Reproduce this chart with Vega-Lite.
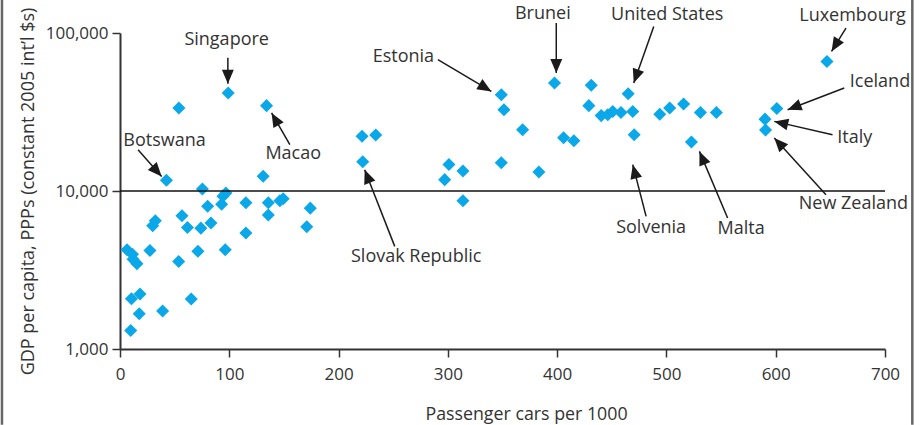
{
  "$schema": "https://vega.github.io/schema/vega-lite/v6.json",
  "width": 765,
  "height": 316,
  "autosize": {"type": "none"},
  "padding": {"left": 120, "top": 33, "right": 38, "bottom": 76},
  "background": "white",
  "config": {
    "view": {"stroke": null},
    "font": "Open Sans",
    "axis": {
      "grid": false,
      "domainColor": "#333333",
      "domainWidth": 2,
      "tickColor": "#333333",
      "tickWidth": 1.5,
      "tickSize": 8,
      "labelFont": "Open Sans",
      "labelFontSize": 17,
      "labelColor": "#333333",
      "titleFont": "Open Sans",
      "titleFontSize": 18,
      "titleFontWeight": "normal",
      "titleColor": "#333333"
    }
  },
  "datasets": {
    "points": [
      {"cars": 6.4, "gdp": 4250}, {"cars": 11.4, "gdp": 3980}, {"cars": 11.9, "gdp": 3700}, {"cars": 15.5, "gdp": 3470},
      {"cars": 27.4, "gdp": 4200}, {"cars": 10.5, "gdp": 2080}, {"cars": 18.3, "gdp": 2230}, {"cars": 17.6, "gdp": 1670},
      {"cars": 39.0, "gdp": 1740}, {"cars": 9.8, "gdp": 1310}, {"cars": 65.2, "gdp": 2070}, {"cars": 53.7, "gdp": 3580},
      {"cars": 71.3, "gdp": 4150}, {"cars": 96.3, "gdp": 4250}, {"cars": 29.9, "gdp": 6030}, {"cars": 32.3, "gdp": 6490},
      {"cars": 56.7, "gdp": 6980}, {"cars": 61.7, "gdp": 5880}, {"cars": 74.0, "gdp": 5820}, {"cars": 80.2, "gdp": 8010},
      {"cars": 83.2, "gdp": 6270}, {"cars": 93.0, "gdp": 8250}, {"cars": 115.2, "gdp": 8430}, {"cars": 115.2, "gdp": 5420},
      {"cars": 135.7, "gdp": 7050}, {"cars": 135.7, "gdp": 8430}, {"cars": 146.3, "gdp": 8680}, {"cars": 149.3, "gdp": 8940},
      {"cars": 174.1, "gdp": 7790}, {"cars": 170.9, "gdp": 5940}, {"cars": 75.4, "gdp": 10300}, {"cars": 94.2, "gdp": 9270},
      {"cars": 96.9, "gdp": 9710}, {"cars": 42.5, "gdp": 11700}, {"cars": 131.0, "gdp": 12400}, {"cars": 53.9, "gdp": 33500},
      {"cars": 99.0, "gdp": 41700}, {"cars": 134.1, "gdp": 34700}, {"cars": 221.5, "gdp": 22200}, {"cars": 234.0, "gdp": 22600},
      {"cars": 222.1, "gdp": 15300}, {"cars": 301.0, "gdp": 14700}, {"cars": 313.8, "gdp": 13400}, {"cars": 297.1, "gdp": 11800},
      {"cars": 313.8, "gdp": 8680}, {"cars": 348.9, "gdp": 15100}, {"cars": 348.9, "gdp": 40700}, {"cars": 351.3, "gdp": 32700},
      {"cars": 368.4, "gdp": 24400}, {"cars": 383.3, "gdp": 13200}, {"cars": 397.6, "gdp": 48300}, {"cars": 405.9, "gdp": 21700},
      {"cars": 415.3, "gdp": 20800}, {"cars": 431.2, "gdp": 46700}, {"cars": 429.0, "gdp": 34700}, {"cars": 440.3, "gdp": 30000},
      {"cars": 446.3, "gdp": 30400}, {"cars": 450.9, "gdp": 31900}, {"cars": 458.4, "gdp": 31400}, {"cars": 469.2, "gdp": 31900},
      {"cars": 465.0, "gdp": 41300}, {"cars": 470.5, "gdp": 22700}, {"cars": 493.9, "gdp": 30600}, {"cars": 503.0, "gdp": 33500},
      {"cars": 515.7, "gdp": 35500}, {"cars": 531.1, "gdp": 31400}, {"cars": 545.7, "gdp": 31400}, {"cars": 522.9, "gdp": 20400},
      {"cars": 601.0, "gdp": 33300}, {"cars": 590.2, "gdp": 28500}, {"cars": 590.7, "gdp": 24300}, {"cars": 646.9, "gdp": 66100}
    ],
    "notes": [
      {"label": "Singapore", "tx": 97.6, "ty": 89780, "x0": 98.7, "y0": 69780, "x1": 98.7, "y1": 47750, "ang": 180},
      {"label": "Botswana", "tx": 40.7, "ty": 20810, "x0": 16.5, "y0": 18250, "x1": 38.1, "y1": 12370, "ang": 138},
      {"label": "Macao", "tx": 158.5, "ty": 17220, "x0": 155.4, "y0": 19630, "x1": 138.7, "y1": 31170, "ang": 330},
      {"label": "Estonia", "tx": 259.3, "ty": 70480, "x0": 290.9, "y0": 67780, "x1": 339.8, "y1": 42700, "ang": 121},
      {"label": "Brunei", "tx": 386.9, "ty": 132500, "x0": 399.2, "y0": 115700, "x1": 399.2, "y1": 55830, "ang": 180},
      {"label": "United States", "tx": 500.7, "ty": 130000, "x0": 488.4, "y0": 110100, "x1": 470.1, "y1": 48260, "ang": 199.5},
      {"label": "Luxembourg", "tx": 670.3, "ty": 127400, "x0": 664.3, "y0": 107500, "x1": 651.1, "y1": 76470, "ang": 211.6},
      {"label": "Iceland", "tx": 695.4, "ty": 48680, "x0": 662.7, "y0": 44860, "x1": 610.9, "y1": 32700, "ang": 249},
      {"label": "Italy", "tx": 672.3, "ty": 21650, "x0": 652.0, "y0": 22720, "x1": 598.7, "y1": 27580, "ang": 283},
      {"label": "New Zealand", "tx": 671.1, "ty": 8310, "x0": 646.0, "y0": 9475, "x1": 598.7, "y1": 21650, "ang": 317.6},
      {"label": "Slovak Republic", "tx": 271.0, "ty": 3822, "x0": 251.4, "y0": 4461, "x1": 223.9, "y1": 13640, "ang": 338.6},
      {"label": "Solvenia", "tx": 486.0, "ty": 5832, "x0": 481.4, "y0": 6906, "x1": 469.2, "y1": 14680, "ang": 345.5},
      {"label": "Malta", "tx": 568.3, "ty": 5747, "x0": 556.0, "y0": 6747, "x1": 530.2, "y1": 17810, "ang": 337}
    ]
  },
  "layer": [
    {
      "data": {"name": "points"},
      "mark": {"type": "point", "shape": "diamond", "filled": true, "opacity": 1, "color": "#0AA8E8", "size": 170},
      "encoding": {
        "x": {
          "field": "cars", "type": "quantitative",
          "title": "Passenger cars per 1000",
          "scale": {"domain": [0, 700], "nice": false, "zero": false},
          "axis": {
            "values": [0, 100, 200, 300, 400, 500, 600, 700],
            "labelPadding": 9,
            "labelFlush": false,
            "titleFontSize": 17.8,
            "titleX": 406, "titleY": 65, "titleAlign": "center", "titleBaseline": "middle"
          }
        },
        "y": {
          "field": "gdp", "type": "quantitative",
          "title": "GDP per capita, PPPs (constant 2005 int\u2019l $s)",
          "scale": {"type": "log", "domain": [1000, 100000], "nice": false},
          "axis": {
            "values": [1000, 10000, 100000],
            "format": ",",
            "labelPadding": 4,
            "labelFlush": false,
            "titleFontSize": 18,
            "titleX": -92, "titleY": 158, "titleAngle": -90, "titleAlign": "center", "titleBaseline": "middle"
          }
        }
      }
    },
    {
      "data": {"values": [{}]},
      "mark": {"type": "rule", "color": "#111111", "strokeWidth": 1.4},
      "encoding": {
        "y": {"datum": 10000, "type": "quantitative", "title": "GDP per capita, PPPs (constant 2005 int\u2019l $s)"}
      }
    },
    {
      "data": {"values": [{}]},
      "mark": {"type": "rule", "color": "#666666", "strokeWidth": 2.5},
      "encoding": {
        "x": {"datum": -108, "type": "quantitative", "title": "Passenger cars per 1000"},
        "y": {"datum": 332, "type": "quantitative", "title": "GDP per capita, PPPs (constant 2005 int\u2019l $s)"},
        "y2": {"datum": 162000}
      }
    },
    {
      "data": {"values": [{}]},
      "mark": {"type": "rule", "color": "#666666", "strokeWidth": 2.5},
      "encoding": {
        "x": {"datum": 725, "type": "quantitative", "title": "Passenger cars per 1000"},
        "y": {"datum": 332, "type": "quantitative", "title": "GDP per capita, PPPs (constant 2005 int\u2019l $s)"},
        "y2": {"datum": 162000}
      }
    },
    {
      "data": {"name": "notes"},
      "mark": {"type": "rule", "color": "#1a1a1a", "strokeWidth": 1.5},
      "encoding": {
        "x": {"field": "x0", "type": "quantitative", "title": "Passenger cars per 1000"},
        "y": {"field": "y0", "type": "quantitative", "title": "GDP per capita, PPPs (constant 2005 int\u2019l $s)"},
        "x2": {"field": "x1"},
        "y2": {"field": "y1"}
      }
    },
    {
      "data": {"name": "notes"},
      "mark": {"type": "point", "shape": "M0,0L-0.85,2L0.85,2Z", "filled": true, "opacity": 1, "color": "#1a1a1a", "size": 196},
      "encoding": {
        "x": {"field": "x1", "type": "quantitative", "title": "Passenger cars per 1000"},
        "y": {"field": "y1", "type": "quantitative", "title": "GDP per capita, PPPs (constant 2005 int\u2019l $s)"},
        "angle": {"field": "ang", "type": "quantitative", "scale": null}
      }
    },
    {
      "data": {"name": "notes"},
      "mark": {"type": "text", "font": "Open Sans", "fontSize": 18, "color": "#333333", "align": "center", "baseline": "middle"},
      "encoding": {
        "x": {"field": "tx", "type": "quantitative", "title": "Passenger cars per 1000"},
        "y": {"field": "ty", "type": "quantitative", "title": "GDP per capita, PPPs (constant 2005 int\u2019l $s)"},
        "text": {"field": "label"}
      }
    }
  ]
}
